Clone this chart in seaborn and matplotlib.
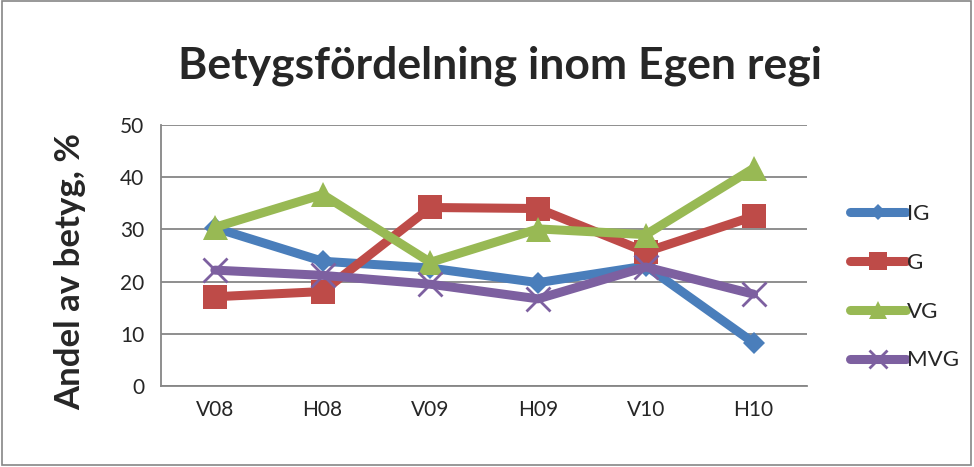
import pandas as pd
import matplotlib.pyplot as plt
import seaborn as sns
from matplotlib.patches import Rectangle

# data
terms = ['V08', 'H08', 'V09', 'H09', 'V10', 'H10']
ig = [30.3, 23.9, 22.6, 19.8, 23.0, 8.3]
g = [17.1, 18.1, 34.2, 34.0, 25.7, 32.5]
vg = [30.4, 36.7, 23.7, 30.1, 29.0, 41.7]
mvg = [22.2, 21.2, 19.5, 16.7, 22.8, 17.6]

series = {'IG': ig, 'G': g, 'VG': vg, 'MVG': mvg}
rows = []
for name, vals in series.items():
    for t, v in zip(terms, vals):
        rows.append({'Termin': t, 'Andel': v, 'Betyg': name})
df = pd.DataFrame(rows)

colors = {'IG': '#4A7EBB', 'G': '#BE4B48', 'VG': '#98B954', 'MVG': '#7D60A0'}
markers = {'IG': 'D', 'G': 's', 'VG': '^', 'MVG': 'x'}
msizes = {'IG': 11, 'G': 17, 'VG': 18, 'MVG': 17}

sns.set_style('white')
plt.rcParams['font.family'] = ['Lato', 'DejaVu Sans']

fig = plt.figure(figsize=(9.74, 4.67), dpi=100)
ax = fig.add_axes([0.1653, 0.1734, 0.6637, 0.5589])

for name in series:
    sub = df[df['Betyg'] == name]
    sns.lineplot(data=sub, x='Termin', y='Andel', ax=ax, color=colors[name],
                 linewidth=6.5, marker=markers[name], markersize=msizes[name],
                 markeredgewidth=2 if name == 'MVG' else 0,
                 markeredgecolor=colors[name], label=name, sort=False)

ax.set_xlim(-0.5, 5.5)
ax.set_ylim(0, 50)
ax.set_yticks(range(0, 51, 10))
ax.yaxis.grid(True, color='#868686', linewidth=1.3)
ax.set_axisbelow(True)
for s in ['top', 'right']:
    ax.spines[s].set_visible(False)
for s in ['left', 'bottom']:
    ax.spines[s].set_color('#868686')
    ax.spines[s].set_linewidth(1.3)

ax.set_xticks([i - 0.5 for i in range(7)])
ax.set_xticklabels([])
ax.set_xticks(range(6), minor=True)
ax.set_xticklabels(terms, minor=True)
ax.tick_params(axis='x', which='major', length=8, width=1.3, color='#868686', direction='out')
ax.tick_params(axis='x', which='minor', length=0, pad=10, labelsize=15)
ax.tick_params(axis='y', length=7, width=1.3, color='#868686', direction='out', labelsize=15, pad=5)

ax.set_xlabel('')
ax.set_ylabel('Andel av betyg, %', fontsize=25, fontweight='bold')
ax.yaxis.set_label_coords(-0.116, 0.44)

fig.suptitle('Betygsfördelning inom Egen regi', x=0.513, y=0.902, fontsize=32, fontweight='bold')

ax.legend(loc='upper left', bbox_to_anchor=(1.035, 0.775), frameon=False, fontsize=16,
          handlelength=2.5, labelspacing=1.3, handletextpad=0.05, markerscale=0.75)

fig.patches.append(Rectangle((0.002, 0.004), 0.995, 0.993, transform=fig.transFigure,
                             fill=False, edgecolor='#868686', linewidth=1.2))

fig.savefig('out.png', dpi=100)
